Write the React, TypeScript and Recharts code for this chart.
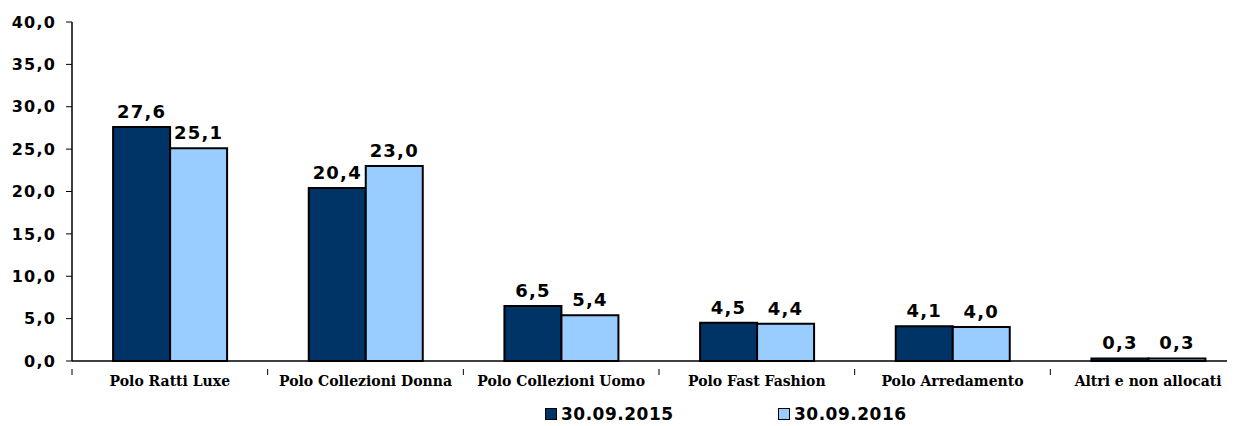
import { BarChart, Bar, XAxis, YAxis, Legend, LabelList } from "recharts";

const categories = [
  "Polo Ratti Luxe",
  "Polo Collezioni Donna",
  "Polo Collezioni Uomo",
  "Polo Fast Fashion",
  "Polo Arredamento",
  "Altri e non allocati",
];
const values2015 = [27.6, 20.4, 6.5, 4.5, 4.1, 0.3];
const values2016 = [25.1, 23.0, 5.4, 4.4, 4.0, 0.3];
const yTicks = [0, 5, 10, 15, 20, 25, 30, 35, 40];
const seriesNames = ["30.09.2015", "30.09.2016"];

const DARK = "#003366";
const LIGHT = "#99CCFF";
const SANS = "'DejaVu Sans', Verdana, sans-serif";
const SERIF = "'DejaVu Serif', 'Bookman Old Style', serif";

const CHART_W = 1240;
const MARGIN_L = 64;
const MARGIN_R = 2;
const BAND = (CHART_W - MARGIN_L - MARGIN_R) / categories.length;

const data = categories.map((c, i) => ({
  name: c,
  v2015: values2015[i],
  v2016: values2016[i],
}));

const fmt = (v: number) => v.toFixed(1).replace(".", ",");

function CategoryTick(props: any) {
  const { x, y, payload } = props;
  return (
    <g>
      <line x1={x - BAND / 2} x2={x - BAND / 2} y1={y} y2={y + 6} stroke="#000" strokeWidth={1} />
      <text
        x={x}
        y={y + 17}
        textAnchor="middle"
        fontFamily={SERIF}
        fontWeight="bold"
        fontSize={14}
        fill="#000"
      >
        {payload.value}
      </text>
    </g>
  );
}

function LegendContent() {
  const colors = [DARK, LIGHT];
  const lefts = [537, 770];
  return (
    <div style={{ position: "relative", height: 22 }}>
      {seriesNames.map((n, i) => (
        <div
          key={n}
          style={{
            position: "absolute",
            left: lefts[i],
            top: 3,
            height: 14,
            lineHeight: "14px",
            display: "flex",
            alignItems: "center",
            fontFamily: SANS,
            fontWeight: "bold",
            fontSize: 17,
            letterSpacing: 0.5,
            color: "#000",
            whiteSpace: "nowrap",
          }}
        >
          <span
            style={{
              display: "inline-block",
              width: 10,
              height: 10,
              background: colors[i],
              border: "1px solid #000",
              marginRight: 4,
            }}
          />
          {n}
        </div>
      ))}
    </div>
  );
}

const labelStyle = { fontFamily: SANS, fontWeight: "bold", fontSize: 18, fill: "#000", letterSpacing: 1.2 };

export default function App() {
  return (
    <div style={{ width: 1227, height: 418, overflow: "hidden" }}>
      <BarChart
        width={CHART_W}
        height={418}
        data={data}
        margin={{ top: 14, right: MARGIN_R, left: 0, bottom: 13 }}
        barCategoryGap="21%"
        barGap={0}
      >
        <YAxis
          domain={[0, 40]}
          ticks={yTicks}
          width={MARGIN_L}
          tickFormatter={fmt}
          axisLine={{ stroke: "#000", strokeWidth: 1.5 }}
          tickLine={{ stroke: "#000" }}
          tickSize={6}
          tickMargin={10}
          tick={{ fontFamily: SANS, fontWeight: "bold", fontSize: 16, fill: "#000", letterSpacing: 1.2 }}
        />
        <XAxis
          dataKey="name"
          interval={0}
          height={30}
          axisLine={{ stroke: "#000", strokeWidth: 1.5 }}
          tickLine={false}
          tick={<CategoryTick />}
        />
        <Legend
          verticalAlign="bottom"
          content={<LegendContent />}
          wrapperStyle={{ left: 0, bottom: 0, width: CHART_W }}
        />
        <Bar dataKey="v2015" name={seriesNames[0]} fill={DARK} stroke="#000" strokeWidth={2} isAnimationActive={false}>
          <LabelList
            dataKey="v2015"
            position="top"
            offset={9}
            formatter={(v: any) => fmt(Number(v))}
            style={labelStyle}
          />
        </Bar>
        <Bar dataKey="v2016" name={seriesNames[1]} fill={LIGHT} stroke="#000" strokeWidth={2} isAnimationActive={false}>
          <LabelList
            dataKey="v2016"
            position="top"
            offset={9}
            formatter={(v: any) => fmt(Number(v))}
            style={labelStyle}
          />
        </Bar>
      </BarChart>
    </div>
  );
}
